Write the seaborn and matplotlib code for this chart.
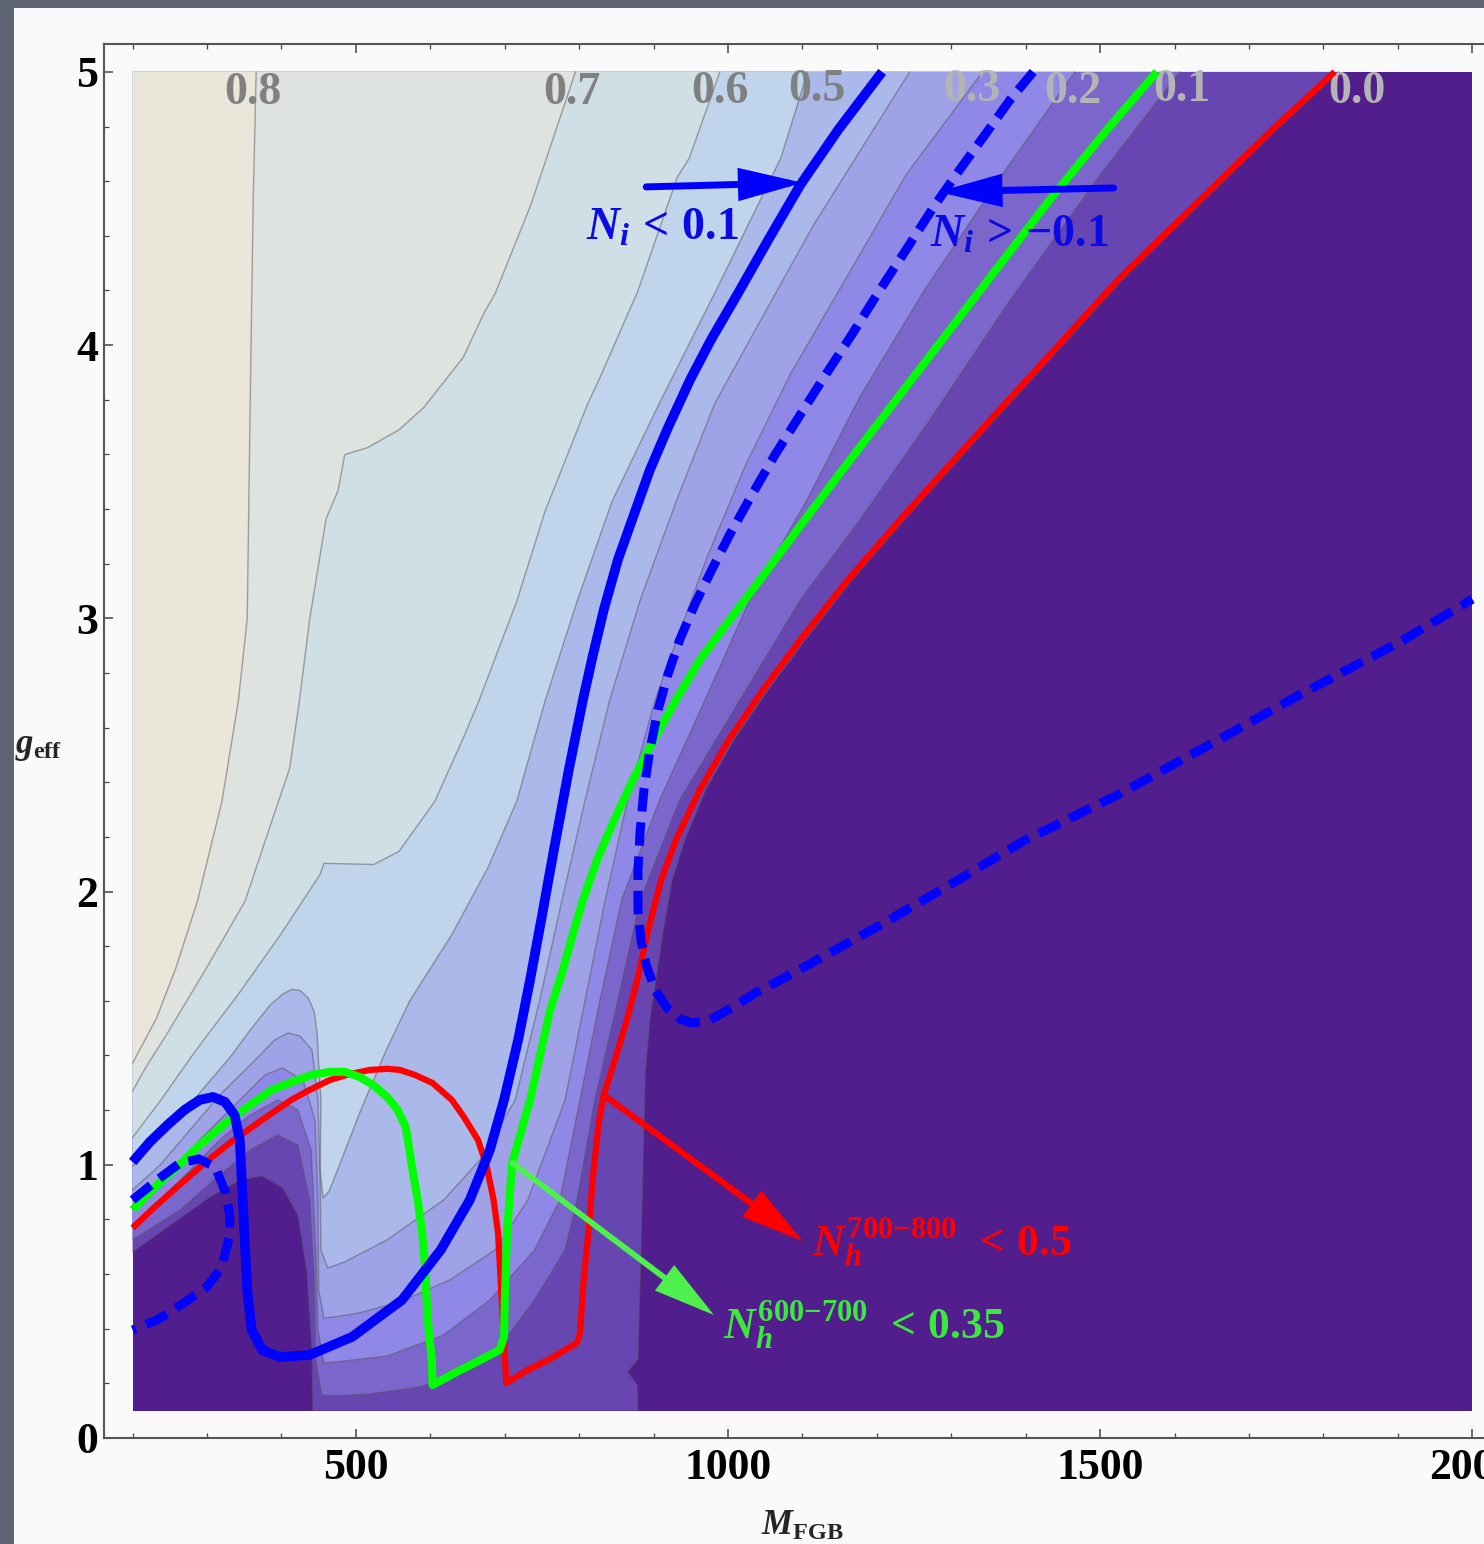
import matplotlib
matplotlib.use("Agg")
import matplotlib.pyplot as plt
import seaborn as sns
from matplotlib.patches import Rectangle
from matplotlib.ticker import MultipleLocator

sns.set_theme(style="ticks")
plt.rcParams['font.family'] = ['Liberation Serif', 'DejaVu Serif']
plt.rcParams['font.weight'] = 'bold'
plt.rcParams['mathtext.fontset'] = 'custom'
plt.rcParams['mathtext.rm'] = 'Liberation Serif:bold'
plt.rcParams['mathtext.it'] = 'Liberation Serif:italic:bold'
plt.rcParams['mathtext.bf'] = 'Liberation Serif:bold'

# ---------------- data (M_FGB, g_eff) ----------------
levels = [0.0, 0.1, 0.2, 0.3, 0.4, 0.5, 0.6, 0.7, 0.8]
band_colors = ['#6846b2', '#7b66cc', '#9088e6', '#a0a2e8', '#aab8ea',
               '#c0d4eb', '#d0dfe6', '#dfe3df', '#ebe6da']
below_color = '#521d8d'

# contour 0.0: part a (top edge -> bottom edge), part b (valley, bottom -> left edge)
c00a_m = [1821, 1737, 1640, 1530, 1438, 1334, 1237, 1167, 1104, 1054, 1008, 970, 942, 925, 912, 903, 895, 889,
          883, 879, 865, 878, 879]
c00a_g = [5.0, 4.788, 4.531, 4.239, 3.964, 3.653, 3.360, 3.141, 2.921, 2.738, 2.555, 2.372, 2.189, 2.042, 1.841,
          1.676, 1.530, 1.343, 0.688, 0.289, 0.242, 0.194, 0.1]
c00b_m = [442, 441, 434, 422, 402, 374, 344, 304, 257, 200]
c00b_g = [0.1, 0.322, 0.615, 0.816, 0.915, 0.959, 0.944, 0.882, 0.791, 0.681]

c01_m = [1607, 1500, 1379, 1271, 1177, 1097, 1016, 935, 882, 852, 821, 797, 781, 740, 700, 653, 586, 519, 472,
         454, 446, 444, 438, 422, 395, 358, 317, 264, 200]
c01_g = [5.0, 4.623, 4.165, 3.726, 3.360, 3.067, 2.701, 2.335, 1.969, 1.603, 1.237, 0.871, 0.688, 0.505, 0.359,
         0.249, 0.187, 0.161, 0.154, 0.157, 0.285, 0.578, 0.871, 1.072, 1.109, 1.054, 0.963, 0.835, 0.725]

c02_m = [1466, 1368, 1264, 1177, 1106, 1029, 969, 908, 857, 828, 801, 774, 740, 680, 618, 542, 472, 457,
         449, 446, 440, 422, 395, 358, 317, 264, 200]
c02_g = [5.0, 4.623, 4.202, 3.810, 3.433, 3.067, 2.701, 2.335, 1.969, 1.603, 1.237, 0.871, 0.688, 0.505, 0.377,
         0.300, 0.278, 0.275, 0.395, 0.688, 1.054, 1.201, 1.237, 1.182, 1.091, 0.944, 0.769]

c03_m = [1342, 1239, 1162, 1084, 1023, 972, 931, 902, 865, 835, 808, 781, 731, 687, 626, 559, 505, 472, 457,
         450, 449, 445, 429, 401, 378, 344, 290, 243, 200]
c03_g = [5.0, 4.623, 4.261, 3.895, 3.558, 3.225, 2.921, 2.701, 2.335, 1.969, 1.603, 1.237, 0.871, 0.688, 0.578,
         0.498, 0.458, 0.443, 0.439, 0.542, 0.871, 1.164, 1.310, 1.354, 1.329, 1.237, 1.091, 0.944, 0.835]

c04_m = [1244, 1115, 1044, 982, 931, 882, 841, 808, 777, 747, 714, 667, 618, 542, 485, 462,
         453, 452, 449, 441, 425, 409, 391, 358, 317, 277, 237, 200]
c04_g = [5.0, 4.440, 4.092, 3.785, 3.433, 3.067, 2.701, 2.335, 1.969, 1.603, 1.237, 1.018, 0.871, 0.725, 0.644,
         0.622, 0.688, 0.944, 1.237, 1.420, 1.471, 1.482, 1.457, 1.365, 1.255, 1.127, 0.999, 0.908]

c05_m = [1107, 1071, 983, 906, 844, 797, 754, 716, 677, 629, 572, 540, 506, 480, 464, 456,
         452, 453, 450, 448, 444, 436, 425, 414, 402, 385, 360, 332, 292, 252, 200]
c05_g = [5.0, 4.685, 4.195, 3.778, 3.427, 3.061, 2.696, 2.330, 2.085, 1.843, 1.598, 1.415, 1.196, 1.013, 0.903,
         0.878, 0.976, 1.233, 1.368, 1.478, 1.560, 1.610, 1.638, 1.642, 1.625, 1.585, 1.500, 1.397, 1.269,
         1.141, 0.995]

c06_m = [989, 948, 932, 879, 829, 811, 754, 716, 665, 644, 606, 558, 524, 457, 452, 399, 342, 284, 237, 200]
c06_g = [5.0, 4.685, 4.616, 4.199, 3.888, 3.782, 3.391, 3.061, 2.696, 2.560, 2.330, 2.147, 2.099, 2.103, 2.063,
         1.843, 1.624, 1.415, 1.233, 1.10]

c07_m = [795, 735, 687, 673, 644, 591, 558, 516, 485, 476, 460, 438, 424, 411, 381, 351, 299, 246, 217, 200]
c07_g = [5.0, 4.513, 4.188, 4.122, 3.954, 3.771, 3.690, 3.625, 3.599, 3.467, 3.365, 2.999, 2.696, 2.451, 2.209,
         1.964, 1.719, 1.478, 1.353, 1.27]

c08_m = [366, 362, 358, 354, 342, 320, 287, 258, 232, 200]
c08_g = [5.0, 4.524, 3.793, 2.999, 2.696, 2.330, 1.964, 1.719, 1.536, 1.372]

# contour labels along the top
label_text = ['0.8', '0.7', '0.6', '0.5', '0.3', '0.2', '0.1', '0.0']
label_m = [362, 790, 989, 1119, 1328, 1463, 1610, 1845]
label_g = [4.923, 4.923, 4.927, 4.934, 4.934, 4.927, 4.934, 4.927]
label_dark = [True, True, True, True, False, False, False, False]

# N_i < 0.1 (blue solid)
blue_m = [1207, 1148, 1097, 1054, 1016, 977, 949, 918, 895, 871, 852, 833, 817, 805, 786, 766, 749, 734, 718,
          699, 680, 653, 614, 562, 495, 438, 398, 374, 360, 354, 348, 344, 337, 324, 308, 290, 270, 247, 223, 200]
blue_g = [5.0, 4.788, 4.586, 4.385, 4.202, 4.019, 3.873, 3.690, 3.543, 3.360, 3.214, 3.031, 2.848, 2.701, 2.445,
          2.152, 1.896, 1.676, 1.457, 1.237, 1.054, 0.871, 0.688, 0.505, 0.370, 0.304, 0.296, 0.322, 0.395,
          0.542, 0.871, 1.091, 1.182, 1.230, 1.248, 1.237, 1.201, 1.146, 1.083, 1.010]

# N_i > -0.1 (blue dashed), two branches
dash1_m = [1410, 1379, 1345, 1311, 1278, 1239, 1204, 1166, 1131, 1097, 1063, 1032, 1002, 978, 955, 935, 919,
           906, 895, 887, 882, 879, 879, 883, 890, 902, 918, 935, 951, 976, 1009, 1037, 1070, 1110, 1205, 1302,
           1397, 1526, 1634, 1768, 1903, 2000]
dash1_g = [5.0, 4.898, 4.769, 4.641, 4.513, 4.348, 4.202, 4.037, 3.891, 3.745, 3.598, 3.452, 3.305, 3.177,
           3.049, 2.921, 2.793, 2.665, 2.518, 2.372, 2.225, 2.079, 1.933, 1.823, 1.731, 1.640, 1.574, 1.534,
           1.519, 1.530, 1.581, 1.629, 1.676, 1.735, 1.878, 2.031, 2.185, 2.357, 2.518, 2.720, 2.914, 3.070]
dash2_m = [200, 233, 264, 289, 311, 325, 330, 331, 320, 300, 269, 233, 200]
dash2_g = [0.871, 0.944, 1.007, 1.021, 0.992, 0.897, 0.824, 0.750, 0.626, 0.553, 0.494, 0.432, 0.395]

# N_h^{600-700} < 0.35 (green)
green_m = [1576, 1509, 1432, 1365, 1298, 1231, 1164, 1103, 1043, 1002, 962, 930, 900, 872, 847, 824, 805, 793,
           778, 761, 749, 734, 710, 703, 700, 699, 693, 667, 633, 603, 602, 598, 595, 593, 589, 583, 575, 567,
           556, 542, 523, 505, 485, 465, 441, 414, 387, 358, 325, 290, 260, 226, 200]
green_g = [5.0, 4.788, 4.531, 4.294, 4.056, 3.818, 3.580, 3.360, 3.141, 2.994, 2.848, 2.701, 2.555, 2.408,
           2.262, 2.116, 1.969, 1.859, 1.713, 1.567, 1.420, 1.237, 1.007, 0.750, 0.505, 0.370, 0.322, 0.285,
           0.238, 0.194, 0.285, 0.384, 0.505, 0.626, 0.750, 0.871, 0.999, 1.138, 1.201, 1.248, 1.292, 1.321,
           1.340, 1.340, 1.329, 1.303, 1.274, 1.219, 1.153, 1.072, 0.992, 0.908, 0.835]

# N_h^{700-800} < 0.5 (red)
red_m = [1815, 1731, 1634, 1524, 1432, 1328, 1231, 1161, 1097, 1047, 1001, 962, 930, 910, 891, 878, 864, 848,
         833, 826, 818, 813, 806, 801, 797, 781, 761, 731, 702, 699, 696, 693, 691, 685, 676, 664, 645, 629,
         603, 579, 559, 542, 519, 492, 465, 438, 413, 374, 336, 297, 260, 230, 200]
red_g = [5.0, 4.788, 4.531, 4.239, 3.964, 3.653, 3.360, 3.141, 2.921, 2.738, 2.555, 2.372, 2.189, 2.042, 1.841,
         1.676, 1.530, 1.384, 1.255, 1.149, 0.944, 0.769, 0.578, 0.384, 0.348, 0.322, 0.289, 0.249, 0.201,
         0.359, 0.505, 0.652, 0.750, 0.871, 0.992, 1.091, 1.175, 1.237, 1.299, 1.329, 1.347, 1.351, 1.347,
         1.332, 1.310, 1.274, 1.237, 1.164, 1.091, 1.007, 0.919, 0.846, 0.769]

# ---------------- figure ----------------
fig = plt.figure(figsize=(14.84, 15.44), dpi=100, facecolor='#5d6373')
fig.add_artist(Rectangle((14 / 1484, 0), 1, 1 - 8 / 1544, transform=fig.transFigure,
                         facecolor='#fafafa', edgecolor='none', zorder=-1))
ax = fig.add_axes([0.0703, 0.0687, 0.9419, 0.9028])
ax.set_facecolor('#fafafa')

# filled contour bands
ax.fill([200, 2000, 2000, 200], [0.1, 0.1, 5.0, 5.0], color=below_color, lw=0, zorder=1)
band_m = [c00a_m + c00b_m, c01_m, c02_m, c03_m, c04_m, c05_m, c06_m, c07_m, c08_m]
band_g = [c00a_g + c00b_g, c01_g, c02_g, c03_g, c04_g, c05_g, c06_g, c07_g, c08_g]
for m, g, col in zip(band_m, band_g, band_colors):
    ax.fill(m + [200], g + [5.0], color=col, lw=0, zorder=1)

for m, g in [(c00a_m, c00a_g), (c00b_m, c00b_g)] + list(zip(band_m[1:], band_g[1:])):
    ax.plot(m, g, color='#555555', lw=1.0, alpha=0.5, zorder=2, solid_joinstyle='round')

for t, m, g, dark in zip(label_text, label_m, label_g, label_dark):
    ax.text(m, g, t, ha='center', va='center', fontsize=33, fontweight='bold',
            color='#808080' if dark else '#b4b4b4', zorder=3)


def curve(m, g, color, lw, ls='-', z=5):
    sns.lineplot(x=m, y=g, sort=False, estimator=None, color=color, linewidth=lw, ax=ax, zorder=z)
    line = ax.lines[-1]
    line.set_linestyle(ls)
    line.set_solid_capstyle('butt')
    line.set_dash_capstyle('butt')
    line.set_solid_joinstyle('round')
    line.set_dash_joinstyle('round')


curve(red_m, red_g, '#ff0000', 4.5, z=5)
curve(green_m, green_g, '#00ff00', 5.8, z=5.1)
curve(dash1_m, dash1_g, '#0000ff', 6.5, ls=(0, (2.6, 1.2)), z=5.2)
curve(dash2_m, dash2_g, '#0000ff', 6.5, ls=(0, (2.6, 1.2)), z=5.2)
curve(blue_m, blue_g, '#0000ff', 7.0, z=5.3)


def arrow(tail, tip, color, lw):
    ax.annotate('', xy=tip, xytext=tail, xycoords='data', zorder=6,
                arrowprops=dict(arrowstyle='-|>,head_length=0.85,head_width=0.22', color=color, lw=lw,
                                mutation_scale=40, shrinkA=0, shrinkB=0, joinstyle='miter'))


arrow((890, 4.579), (1100, 4.594), '#0000ff', 5)
arrow((1518, 4.575), (1282, 4.561), '#0000ff', 5)
arrow((833, 1.255), (1100, 0.721), '#ff0000', 4.5)
arrow((710, 1.007), (981, 0.450), '#4ef04e', 4.2)

ax.text(809, 4.385, r'$N_i\,<\,0.1$', color='#0a0ae6', fontsize=33, ha='left', va='baseline', zorder=7)
ax.text(1272, 4.359, r'$N_i\,>\,{-0.1}$', color='#0a0ae6', fontsize=33, ha='left', va='baseline', zorder=7)
ax.text(1113, 0.670, r'$N_h^{700{-800}}\;\,<\,0.5$', color='#ff0000', fontsize=31.5, ha='left',
        va='baseline', zorder=7)
ax.text(993, 0.366, r'$N_h^{600{-700}}\;\,<\,0.35$', color='#3de83d', fontsize=31.5, ha='left',
        va='baseline', zorder=7)

# axes, ticks
ax.set_xlim(162, 2040)
ax.set_ylim(0, 5.102)
ax.xaxis.set_major_locator(MultipleLocator(500))
ax.xaxis.set_minor_locator(MultipleLocator(100))
ax.yaxis.set_major_locator(MultipleLocator(1))
ax.yaxis.set_minor_locator(MultipleLocator(0.2))
ax.tick_params(which='both', direction='in', top=True, right=True, color='#444444')
ax.tick_params(axis='x', which='major', length=6.5, width=1.1, labelsize=31.5, pad=7)
ax.tick_params(axis='y', which='major', length=6.5, width=1.1, labelsize=31.5, pad=4.5)
ax.tick_params(which='minor', length=3.6, width=0.9)
for lbl in ax.get_xticklabels() + ax.get_yticklabels():
    lbl.set_fontweight('bold')
    lbl.set_color('black')
for sp in ax.spines.values():
    sp.set_linewidth(1.5)
    sp.set_color('#555555')
ax.set_xlabel('')
ax.set_ylabel('')

fig.text(15 / 1484, 1 - 753 / 1544, r'$g_{\mathrm{eff}}$', fontsize=25, ha='left', va='baseline')
fig.text(802 / 1484, 1 - 1535 / 1544, r'$M_{\mathrm{FGB}}$', fontsize=25, ha='center', va='baseline')

fig.savefig('out.png', dpi=100, facecolor=fig.get_facecolor())
